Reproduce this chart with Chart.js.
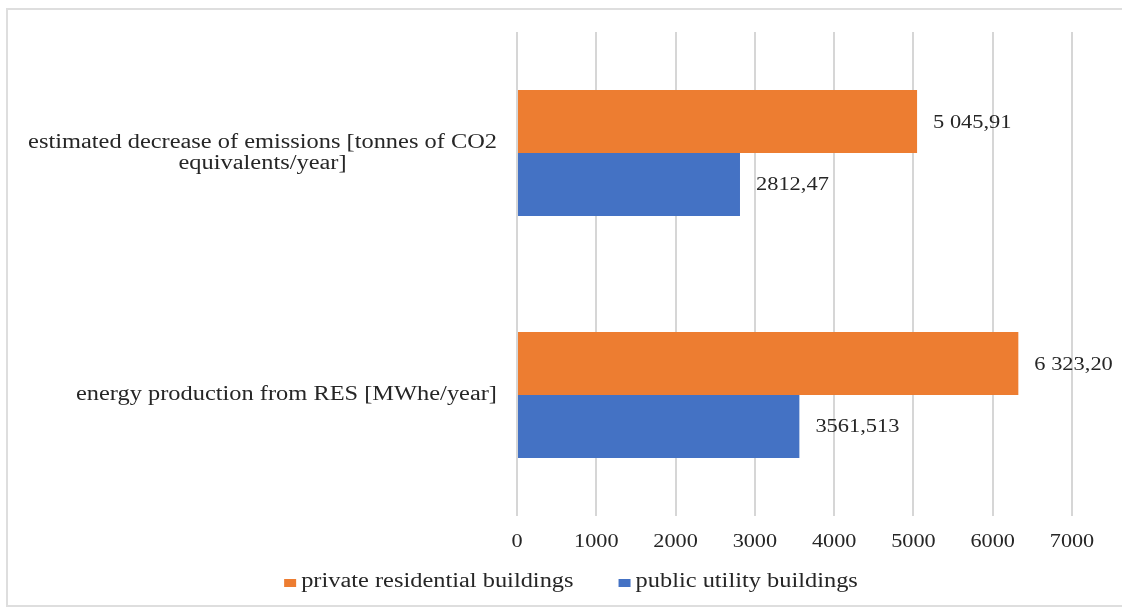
<!DOCTYPE html>
<html>
<head>
<meta charset="utf-8">
<script src="https://cdn.jsdelivr.net/npm/chart.js@4"></script>
<style>
  html, body { margin: 0; padding: 0; background: #fff; }
  .frame {
    position: absolute; left: 6px; top: 8px; width: 1130px; height: 595px;
    border: 2px solid #dedede;
  }
  .wrap { position: absolute; left: 0; top: 0; width: 1122px; height: 610px; }
</style>
</head>
<body>
<div class="frame"></div>
<div class="wrap"><canvas id="resChart"></canvas></div>
<script>
// categories and values
const categories = [
    ['estimated decrease of emissions [tonnes of CO2', 'equivalents/year]'],
    ['energy production from RES [MWhe/year]']
];
const privateResidential = [5045.91, 6323.20];
const publicUtility = [2812.47, 3561.513];
const privateLabels = ['5 045,91', '6 323,20'];
const publicLabels = ['2812,47', '3561,513'];
const xTicks = [0, 1000, 2000, 3000, 4000, 5000, 6000, 7000];

const serif = '"Liberation Serif", "Times New Roman", serif';
const textColor = '#262626';

// text is a bit wide in this layout, so stretch it horizontally
function wideText(ctx, text, x, y, size, sx, align) {
    ctx.save();
    ctx.font = size + 'px ' + serif;
    ctx.fillStyle = textColor;
    ctx.textAlign = align || 'left';
    ctx.textBaseline = 'middle';
    ctx.translate(x, y);
    ctx.scale(sx, 1);
    ctx.fillText(text, 0, 0);
    ctx.restore();
}

function wideWidth(ctx, text, size, sx) {
    ctx.save();
    ctx.font = size + 'px ' + serif;
    const w = ctx.measureText(text).width * sx;
    ctx.restore();
    return w;
}

// value text right of each bar
const valueLabelPlugin = {
    id: 'valueLabels',
    afterDatasetsDraw(chart) {
        const texts = [privateLabels, publicLabels];
        chart.data.datasets.forEach(function(ds, di) {
            chart.getDatasetMeta(di).data.forEach(function(bar, i) {
                wideText(chart.ctx, texts[di][i], bar.x + 16, bar.y + 1, 19, 1.18);
            });
        });
    }
};

// category names, x tick numbers and the legend
const axisTextPlugin = {
    id: 'axisText',
    afterDraw(chart) {
        const ctx = chart.ctx;
        const yScale = chart.scales.y;
        const xScale = chart.scales.x;
        const area = chart.chartArea;

        const right = area.left - 20;
        const lineH = 21;
        categories.forEach(function(lines, i) {
            const w = Math.max.apply(null, lines.map(function(l) { return wideWidth(ctx, l, 20, 1.22); }));
            const cx = right - w / 2;
            const cy = yScale.getPixelForValue(i) - (lines.length - 1) * lineH / 2;
            lines.forEach(function(l, k) {
                wideText(ctx, l, cx, cy + k * lineH, 20, 1.22, 'center');
            });
        });

        xTicks.forEach(function(v) {
            wideText(ctx, String(v), xScale.getPixelForValue(v), area.bottom + 26, 19, 1.17, 'center');
        });

        // legend row
        const size = 20, sx = 1.22, box = 12, gap = 5, spacing = 45;
        const items = chart.data.datasets.map(function(ds) {
            return { text: ds.label, color: ds.backgroundColor, w: wideWidth(ctx, ds.label, size, sx) };
        });
        let total = 0;
        items.forEach(function(it, k) { total += box + gap + it.w + (k ? spacing : 0); });
        let x = chart.width / 2 + 10 - total / 2;
        const ly = 582;
        items.forEach(function(it) {
            ctx.fillStyle = it.color;
            ctx.fillRect(x, ly - 3, box, 8);
            wideText(ctx, it.text, x + box + gap, ly, size, sx);
            x += box + gap + it.w + spacing;
        });
    }
};

document.addEventListener('DOMContentLoaded', function() {
    const ctx = document.getElementById('resChart');
    new Chart(ctx, {
        type: 'bar',
        data: {
            labels: categories,
            datasets: [{
                label: 'private residential buildings',
                data: privateResidential,
                backgroundColor: '#ED7D31'
            }, {
                label: 'public utility buildings',
                data: publicUtility,
                backgroundColor: '#4472C4'
            }]
        },
        plugins: [valueLabelPlugin, axisTextPlugin],
        options: {
            indexAxis: 'y',
            responsive: true,
            maintainAspectRatio: false,
            animation: false,
            categoryPercentage: 0.52,
            barPercentage: 1.0,
            layout: {
                padding: { top: 32, right: 50, bottom: 48, left: 0 }
            },
            plugins: {
                legend: { display: false },
                tooltip: { enabled: false }
            },
            scales: {
                x: {
                    min: 0,
                    max: 7000,
                    afterBuildTicks: function(scale) {
                        scale.ticks = xTicks.map(function(v) { return { value: v }; });
                    },
                    afterFit: function(scale) { scale.height = 46; },
                    grid: {
                        color: '#d6d6d6',
                        lineWidth: 2,
                        drawTicks: false
                    },
                    border: { display: false },
                    ticks: { display: false }
                },
                y: {
                    afterFit: function(scale) { scale.width = 517; },
                    grid: { display: false },
                    border: { display: false },
                    ticks: { display: false }
                }
            }
        }
    });
});
</script>
</body>
</html>
